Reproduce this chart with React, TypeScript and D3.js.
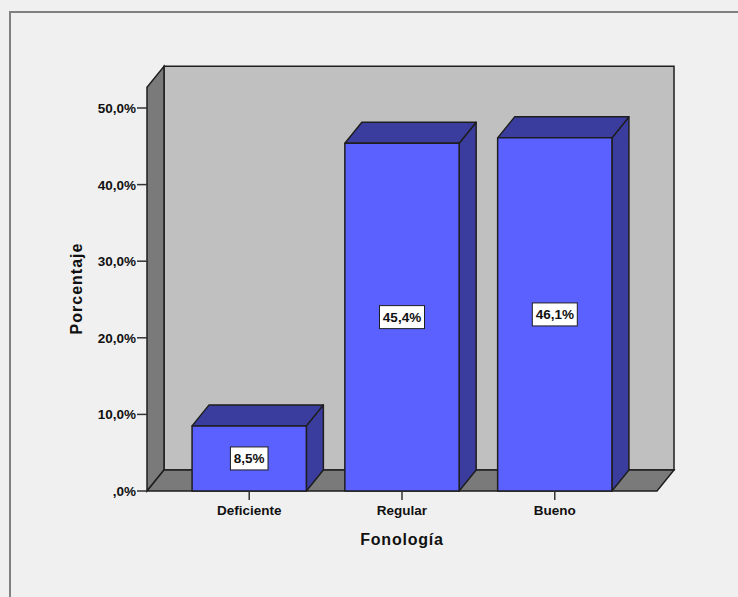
import React from "react";
import * as d3 from "d3";

// Fonología distribution (percent of cases)
const categories = ["Deficiente", "Regular", "Bueno"];
const percentages = [8.5, 45.4, 46.1];
const valueLabels = ["8,5%", "45,4%", "46,1%"];
const yTicks = [0, 10, 20, 30, 40, 50];
const yTickLabels = [",0%", "10,0%", "20,0%", "30,0%", "40,0%", "50,0%"];
const xTitle = "Fonología";
const yTitle = "Porcentaje";

const W = 738;
const H = 597;

// front plane of the 3D plot box
const left = 147;
const right = 657;
const bottom = 491;
const top = 108;
const depthX = 17;
const depthY = 21;
const yWallMax = 52.7;

const colors = {
  page: "#f0f0f0",
  frame: "#808080",
  backWall: "#c0c0c0",
  sideWall: "#7a7a7a",
  barFront: "#5b61ff",
  barShade: "#3a3d9e",
  outline: "#1e1e1e",
};

const font = "'Liberation Sans', Arial, Helvetica, sans-serif";

export default function App() {
  const y = d3.scaleLinear().domain([0, 50]).range([bottom, top]);
  const x = d3
    .scaleBand<string>()
    .domain(categories)
    .range([left, right])
    .paddingInner(0.252)
    .paddingOuter(0.295);

  const yWall = y(yWallMax);
  const pts = (p: [number, number][]) => p.map((d) => d.join(",")).join(" ");

  return (
    <svg
      width={W}
      height={H}
      style={{ position: "absolute", left: 0, top: 0, display: "block" }}
      fontFamily={font}
    >
      <rect x={0} y={0} width={W} height={H} fill={colors.page} />
      <rect
        x={10}
        y={12}
        width={W + 20}
        height={H + 20}
        fill="none"
        stroke={colors.frame}
        strokeWidth={2}
      />

      {/* back wall */}
      <polygon
        points={pts([
          [left + depthX, yWall - depthY],
          [right + depthX, yWall - depthY],
          [right + depthX, bottom - depthY],
          [left + depthX, bottom - depthY],
        ])}
        fill={colors.backWall}
        stroke={colors.outline}
        strokeWidth={1.5}
      />
      {/* left wall */}
      <polygon
        points={pts([
          [left, bottom],
          [left, yWall],
          [left + depthX, yWall - depthY],
          [left + depthX, bottom - depthY],
        ])}
        fill={colors.sideWall}
        stroke={colors.outline}
        strokeWidth={1.5}
      />
      {/* floor */}
      <polygon
        points={pts([
          [left, bottom],
          [left + depthX, bottom - depthY],
          [right + depthX, bottom - depthY],
          [right, bottom],
        ])}
        fill={colors.sideWall}
        stroke={colors.outline}
        strokeWidth={1.5}
      />

      {/* bars */}
      {categories.map((c, i) => {
        const x0 = x(c)!;
        const x1 = x0 + x.bandwidth();
        const yv = y(percentages[i]);
        return (
          <g key={c} stroke={colors.outline} strokeWidth={1.5} strokeLinejoin="round">
            <polygon
              points={pts([
                [x1, bottom],
                [x1, yv],
                [x1 + depthX, yv - depthY],
                [x1 + depthX, bottom - depthY],
              ])}
              fill={colors.barShade}
            />
            <polygon
              points={pts([
                [x0, yv],
                [x0 + depthX, yv - depthY],
                [x1 + depthX, yv - depthY],
                [x1, yv],
              ])}
              fill={colors.barShade}
            />
            <rect x={x0} y={yv} width={x1 - x0} height={bottom - yv} fill={colors.barFront} />
          </g>
        );
      })}

      {/* value labels */}
      {categories.map((c, i) => {
        const cx = x(c)! + x.bandwidth() / 2;
        const cy = (y(percentages[i]) + bottom) / 2;
        const label = valueLabels[i];
        const w = label.length * 7.4 + 8;
        return (
          <g key={"lbl" + c}>
            <rect
              x={cx - w / 2}
              y={cy - 11.5}
              width={w}
              height={23}
              fill="#ffffff"
              stroke={colors.outline}
              strokeWidth={1}
            />
            <text
              x={cx}
              y={cy + 5}
              textAnchor="middle"
              fontSize={13.5}
              fontWeight="bold"
              fill="#111"
            >
              {label}
            </text>
          </g>
        );
      })}

      {/* y axis ticks */}
      {yTicks.map((t, i) => (
        <g key={"yt" + t}>
          <line x1={left - 10} x2={left} y1={y(t)} y2={y(t)} stroke="#333" strokeWidth={1.5} />
          <text
            x={left - 11}
            y={y(t) + 5}
            textAnchor="end"
            fontSize={13.5}
            fontWeight="bold"
            fill="#111"
          >
            {yTickLabels[i]}
          </text>
        </g>
      ))}

      {/* x axis ticks */}
      {categories.map((c) => {
        const cx = x(c)! + x.bandwidth() / 2;
        return (
          <g key={"xt" + c}>
            <line x1={cx} x2={cx} y1={bottom} y2={bottom + 9} stroke="#333" strokeWidth={1.5} />
            <text x={cx} y={515} textAnchor="middle" fontSize={13.5} fontWeight="bold" fill="#111">
              {c}
            </text>
          </g>
        );
      })}

      {/* axis titles */}
      <text
        x={(left + right) / 2}
        y={545}
        textAnchor="middle"
        fontSize={16}
        fontWeight="bold"
        letterSpacing={0.8}
        fill="#111"
      >
        {xTitle}
      </text>
      <text
        transform={`translate(82, ${(top + bottom) / 2 - 11}) rotate(-90)`}
        textAnchor="middle"
        fontSize={16}
        fontWeight="bold"
        letterSpacing={1}
        fill="#111"
      >
        {yTitle}
      </text>
    </svg>
  );
}
